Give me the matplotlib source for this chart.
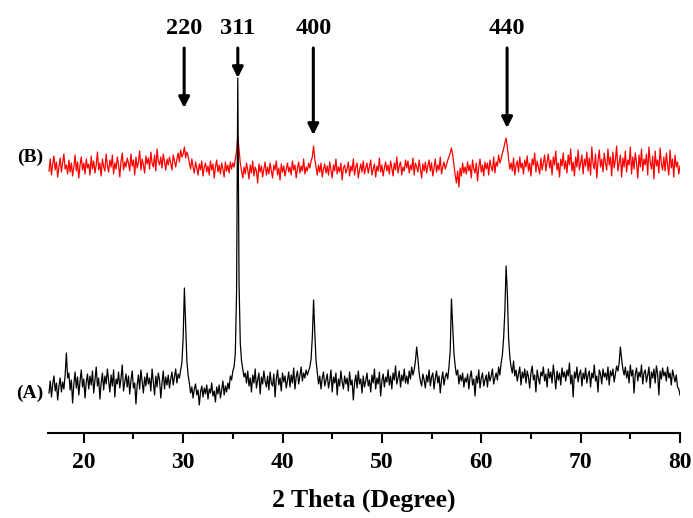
import matplotlib.pyplot as plt
import numpy as np

plt.rcParams['font.family'] = ['Liberation Serif', 'DejaVu Serif']
plt.rcParams['font.weight'] = 'bold'

# 2 theta grid, 0.125 degree steps (16 points per row below = 2 degrees)
two_theta = np.arange(16.5, 80.001, 0.125)

# sample (A) - black trace
curve_a = [
    40, 52, 36, 49, 57, 42, 50, 33, 47, 55, 41, 51, 44, 58, 80, 55,
    60, 43, 53, 30, 49, 61, 45, 56, 38, 52, 63, 46, 54, 35, 51, 59,
    44, 57, 48, 62, 40, 53, 66, 47, 55, 34, 50, 60, 43, 57, 49, 64,
    52, 41, 58, 47, 63, 36, 54, 49, 61, 45, 55, 68, 42, 51, 59, 46,
    57, 39, 53, 62, 45, 50, 29, 48, 58, 44, 63, 51, 40, 56, 47, 60,
    49, 55, 42, 64, 51, 38, 57, 46, 60, 53, 35, 50, 62, 44, 56, 48,
    58, 45, 54, 61, 48, 56, 64, 50, 59, 55, 63, 70, 95, 145, 108, 72,
    58, 50, 40, 46, 35, 44, 49, 38, 43, 28, 41, 47, 36, 45, 39, 48,
    34, 44, 40, 50, 37, 42, 31, 46, 39, 48, 35, 43, 52, 38, 47, 41,
    50, 44, 57, 53, 62, 66, 80, 140, 355, 150, 90, 72, 64, 56, 60, 50,
    62, 47, 55, 41, 58, 50, 64, 45, 53, 60, 39, 56, 49, 62, 52, 46,
    57, 43, 61, 50, 47, 59, 36, 54, 63, 48, 55, 42, 60, 51, 57, 45,
    53, 61, 46, 58, 50, 65, 44, 56, 62, 49, 57, 66, 52, 60, 55, 63,
    58, 62, 66, 74, 96, 133, 100, 72, 60, 49, 57, 44, 55, 61, 47, 53,
    59, 45, 52, 63, 41, 56, 50, 60, 38, 54, 47, 62, 51, 44, 57, 49,
    55, 42, 61, 48, 53, 33, 50, 58, 45, 62, 49, 54, 40, 57, 46, 52,
    60, 47, 53, 41, 58, 50, 64, 44, 55, 49, 61, 37, 52, 59, 46, 56,
    51, 63, 48, 57, 44, 60, 53, 67, 49, 55, 62, 46, 58, 52, 64, 50,
    57, 49, 62, 54, 66, 58, 63, 72, 86, 74, 60, 52, 47, 59, 53, 45,
    58, 51, 63, 47, 56, 60, 44, 55, 62, 50, 57, 40, 53, 61, 48, 56,
    60, 54, 66, 82, 134, 108, 80, 67, 58, 63, 49, 58, 52, 60, 46, 55,
    51, 59, 44, 56, 62, 48, 54, 37, 57, 50, 63, 45, 55, 60, 47, 53,
    58, 46, 61, 52, 57, 64, 49, 55, 60, 53, 66, 58, 70, 78, 95, 122,
    167, 140, 95, 76, 66, 60, 72, 57, 63, 52, 59, 66, 48, 61, 55, 64,
    50, 62, 56, 45, 60, 67, 53, 58, 41, 63, 55, 49, 61, 57, 66, 52,
    59, 46, 64, 55, 61, 50, 68, 57, 44, 62, 53, 60, 48, 65, 56, 61,
    52, 63, 57, 70, 49, 58, 36, 61, 55, 66, 51, 59, 63, 47, 60, 54,
    65, 50, 58, 62, 46, 60, 55, 68, 52, 57, 41, 63, 59, 49, 64, 56,
    60, 53, 66, 48, 62, 57, 64, 51, 59, 67, 62, 70, 86, 74, 64, 58,
    66, 55, 62, 50, 68, 57, 63, 40, 59, 65, 52, 61, 56, 68, 49, 60,
    63, 51, 58, 66, 45, 61, 55, 64, 50, 67, 59, 38, 62, 54, 65, 57,
    61, 52, 66, 55, 60, 48, 63, 57, 51, 58, 46, 44, 38,
]

# sample (B) - red trace
curve_b = [
    262, 274, 258, 269, 277, 263, 271, 256, 266, 275, 261, 270, 279, 264, 268, 259,
    273, 261, 270, 257, 266, 278, 262, 271, 255, 268, 276, 263, 270, 259, 274, 265,
    269, 258, 277, 264, 272, 260, 268, 281, 263, 270, 257, 274, 266, 262, 279, 267,
    261, 273, 266, 278, 259, 270, 264, 276, 268, 256, 272, 280, 263, 271, 266, 275,
    270, 262, 279, 267, 273, 258, 276, 265, 271, 282, 263, 274, 268, 260, 277, 269,
    275, 264, 281, 270, 266, 278, 262, 284, 272, 268, 276, 265, 279, 271, 263, 274,
    268, 276, 270, 263, 278, 272, 266, 274, 280, 271, 283, 276, 279, 286, 275, 281,
    277, 270, 264, 274, 266, 260, 271, 265, 258, 269, 263, 272, 257, 266, 270, 261,
    267, 258, 272, 263, 269, 255, 266, 273, 261, 268, 259, 270, 264, 256, 271, 262,
    268, 260, 271, 264, 270, 266, 274, 282, 297, 283, 270, 262, 255, 266, 259, 270,
    263, 254, 268, 260, 272, 257, 266, 262, 250, 269, 261, 267, 256, 264, 271, 258,
    266, 259, 270, 262, 255, 268, 263, 272, 258, 265, 253, 269, 261, 267, 257, 264,
    270, 261, 266, 258, 272, 263, 268, 255, 265, 271, 260, 267, 262, 274, 259, 266,
    262, 270, 265, 272, 276, 287, 274, 266, 258, 268, 261, 270, 256, 264, 269, 260,
    267, 258, 271, 263, 255, 268, 262, 274, 259, 266, 261, 270, 253, 265, 268, 260,
    264, 271, 257, 267, 262, 274, 258, 266, 270, 255, 263, 269, 261, 272, 259, 265,
    270, 260, 266, 273, 258, 264, 269, 256, 267, 262, 275, 261, 268, 257, 265, 271,
    262, 268, 259, 272, 265, 257, 270, 263, 276, 260, 267, 271, 258, 266, 262, 273,
    265, 272, 260, 268, 263, 275, 258, 270, 266, 261, 273, 264, 255, 269, 262, 271,
    260, 267, 273, 262, 270, 257, 265, 274, 261, 268, 263, 276, 259, 266, 271, 264,
    268, 273, 276, 280, 285, 278, 268, 258, 250, 262, 246, 265, 257, 270, 260, 266,
    259, 271, 262, 268, 255, 273, 264, 260, 270, 252, 266, 274, 261, 268, 257, 271,
    264, 270, 258, 273, 266, 262, 276, 260, 271, 267, 278, 270, 274, 280, 284, 290,
    295, 286, 274, 264, 270, 262, 275, 258, 268, 272, 261, 276, 265, 270, 259, 273,
    266, 277, 262, 270, 257, 274, 268, 280, 261, 272, 266, 259, 275, 263, 270, 278,
    262, 271, 279, 265, 273, 258, 276, 268, 282, 263, 270, 256, 274, 267, 280, 264,
    272, 260, 278, 268, 284, 262, 271, 257, 276, 266, 283, 263, 270, 278, 259, 274,
    267, 281, 262, 275, 258, 286, 269, 264, 279, 255, 272, 283, 266, 274, 261, 280,
    270, 263, 284, 268, 276, 257, 281, 265, 273, 287, 262, 270, 278, 256, 275, 266,
    282, 261, 273, 268, 286, 259, 276, 264, 280, 270, 255, 278, 266, 284, 262, 274,
    268, 279, 258, 286, 271, 264, 277, 254, 282, 267, 273, 260, 285, 269, 263, 276,
    262, 280, 268, 258, 283, 265, 274, 256, 278, 266, 271, 259, 267,
]

# peak labels: hkl, position, arrow tip
hkl = ['220', '311', '400', '440']
hkl_pos = [30.1, 35.5, 43.1, 62.6]
hkl_tip = [325, 355, 298, 305]

fig = plt.figure(figsize=(6.93, 5.18), dpi=100)
ax = fig.add_axes([48 / 693, 85 / 518, 632 / 693, 433 / 518])

ax.plot(two_theta, curve_b, color='#ff0000', lw=0.9)
ax.plot(two_theta, curve_a, color='black', lw=0.9)

for lab, xp, tip in zip(hkl, hkl_pos, hkl_tip):
    ax.annotate('', xy=(xp, tip), xytext=(xp, 385),
                arrowprops=dict(arrowstyle='-|>', color='black', lw=2.2,
                                mutation_scale=16, shrinkA=0, shrinkB=0))
    ax.text(xp, 404, lab, ha='center', va='center', fontsize=17.5,
            fontweight='bold')

ax.text(14.6, 40, '(A)', ha='center', va='center', fontsize=14,
        fontweight='bold', clip_on=False)
ax.text(14.6, 276, '(B)', ha='center', va='center', fontsize=14,
        fontweight='bold', clip_on=False)

ax.set_xlim(16.4, 80)
ax.set_ylim(0, 433)
for s in ['top', 'left', 'right']:
    ax.spines[s].set_visible(False)
ax.spines['bottom'].set_linewidth(1.5)
ax.set_yticks([])
ax.set_xticks([20, 30, 40, 50, 60, 70, 80])
ax.set_xticks([25, 35, 45, 55, 65, 75], minor=True)
ax.tick_params(axis='x', which='major', length=7, width=1.5, labelsize=17,
               pad=7)
ax.tick_params(axis='x', which='minor', length=4, width=1.5)
ax.set_xlabel('2 Theta (Degree)', fontsize=18.5, fontweight='bold', labelpad=11)

fig.savefig('out.png', dpi=100)
